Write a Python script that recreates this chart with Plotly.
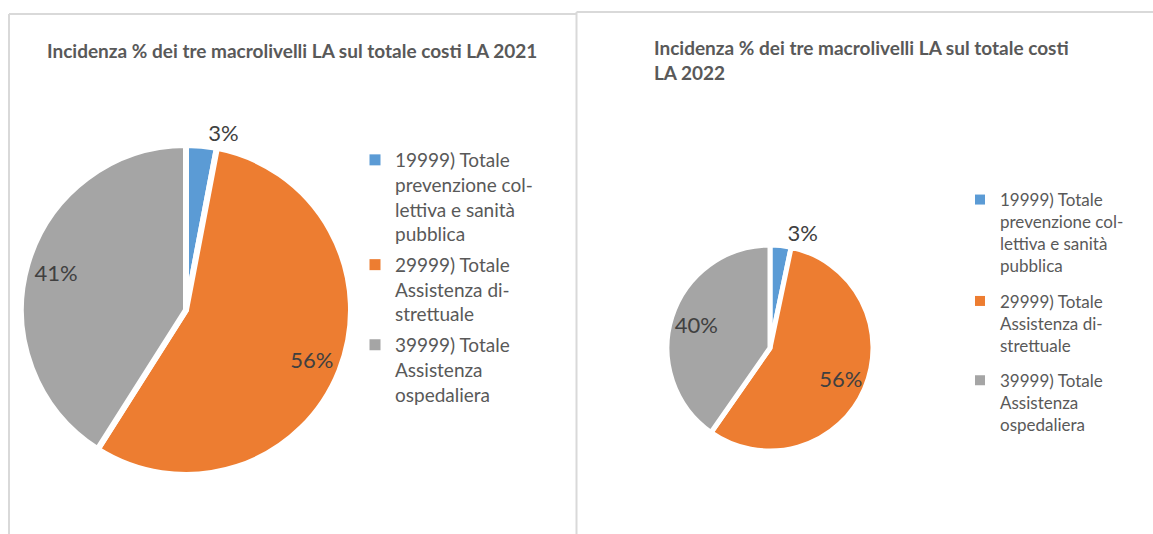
import plotly.graph_objects as go

# ---- data ----
categories = [
    "19999) Totale<br>prevenzione col-<br>lettiva e sanità<br>pubblica",
    "29999) Totale<br>Assistenza di-<br>strettuale",
    "39999) Totale<br>Assistenza<br>ospedaliera",
]
values_2021 = [3.0, 56.0, 41.0]
values_2022 = [3.3, 56.4, 40.3]
title_2021 = "Incidenza % dei tre macrolivelli LA sul totale costi LA 2021"
title_2022 = "Incidenza % dei tre macrolivelli LA sul totale costi<br>LA 2022"

colors = ["#5B9BD5", "#ED7D31", "#A5A5A5"]
W, H = 1153, 534
FONT = "Lato"
LABEL_COLOR = "#404040"
TEXT_COLOR = "#595959"


def dom(cx, cy, r):
    return dict(x=[(cx - r) / W, (cx + r) / W], y=[(H - cy - r) / H, (H - cy + r) / H])


fig = go.Figure()


def add_pie(values, domain, line_w, hole, legend, label_size, tag, symsize):
    # main pie (slices + small outside label)
    fig.add_trace(go.Pie(
        labels=categories, values=values, sort=False, direction="clockwise", rotation=0,
        domain=domain,
        marker=dict(colors=colors, line=dict(color="white", width=line_w)),
        texttemplate="%{percent:.0%}",
        textposition=["outside", "none", "none"],
        outsidetextfont=dict(family=FONT, size=label_size, color=LABEL_COLOR),
        automargin=False, showlegend=False,
        hoverinfo="label+percent",
    ))
    # transparent ring used to place the large labels near the rim
    fig.add_trace(go.Pie(
        labels=categories, values=values, sort=False, direction="clockwise", rotation=0,
        domain=domain, hole=hole,
        marker=dict(colors=["rgba(0,0,0,0)"] * 3, line=dict(width=0)),
        texttemplate="%{percent:.0%}",
        textposition=["none", "inside", "inside"],
        insidetextorientation="horizontal",
        insidetextfont=dict(family=FONT, size=label_size, color=LABEL_COLOR),
        showlegend=False, hoverinfo="skip",
    ))
    # legend entries
    for i, (cat, col) in enumerate(zip(categories, colors)):
        fig.add_trace(go.Scatter(
            x=[None], y=[None], mode="markers", name=cat,
            marker=dict(symbol="square", size=symsize, color=col),
            legend=legend, legendgroup=f"{tag}{i}", showlegend=True, hoverinfo="skip",
        ))


add_pie(values_2021, dom(186, 310, 165), 6, 0.64, "legend", 22, "a", 11)
add_pie(values_2022, dom(770, 348, 103), 5, 0.5, "legend2", 22, "b", 10)

border = "#D9D9D9"
shapes = [
    dict(type="line", xref="paper", yref="paper", x0=9 / W, x1=9 / W, y0=0, y1=1 - 14 / H, line=dict(color=border, width=2)),
    dict(type="line", xref="paper", yref="paper", x0=9 / W, x1=576 / W, y0=1 - 14 / H, y1=1 - 14 / H, line=dict(color=border, width=2)),
    dict(type="line", xref="paper", yref="paper", x0=576.5 / W, x1=576.5 / W, y0=0, y1=1 - 12 / H, line=dict(color=border, width=2)),
    dict(type="line", xref="paper", yref="paper", x0=576.5 / W, x1=1, y0=1 - 12 / H, y1=1 - 12 / H, line=dict(color=border, width=2)),
]

annotations = [
    dict(text="<b>" + title_2021 + "</b>", xref="paper", yref="paper", x=292 / W, y=1 - 50 / H,
         xanchor="center", yanchor="middle", showarrow=False,
         font=dict(family=FONT, size=19, color=TEXT_COLOR)),
    dict(text="<b>" + title_2022 + "</b>", xref="paper", yref="paper", x=652 / W, y=1 - 59.5 / H,
         xanchor="left", yanchor="middle", showarrow=False, align="left",
         font=dict(family=FONT, size=19, color=TEXT_COLOR)),
]

fig.update_layout(
    width=W, height=H, margin=dict(l=0, r=0, t=0, b=0),
    paper_bgcolor="white", plot_bgcolor="white",
    xaxis=dict(visible=False), yaxis=dict(visible=False),
    shapes=shapes, annotations=annotations,
    legend=dict(x=355 / W, y=1 - 141 / H, xanchor="left", yanchor="top", valign="top",
                tracegroupgap=3,
                font=dict(family=FONT, size=19, color=TEXT_COLOR), bgcolor="rgba(0,0,0,0)"),
    legend2=dict(x=960 / W, y=1 - 182 / H, xanchor="left", yanchor="top", valign="top",
                 tracegroupgap=10,
                 font=dict(family=FONT, size=17, color=TEXT_COLOR), bgcolor="rgba(0,0,0,0)"),
)

fig.write_html("out.html", config={"displayModeBar": False},
               post_script="document.body.style.margin='0';document.body.style.overflow='hidden';")
